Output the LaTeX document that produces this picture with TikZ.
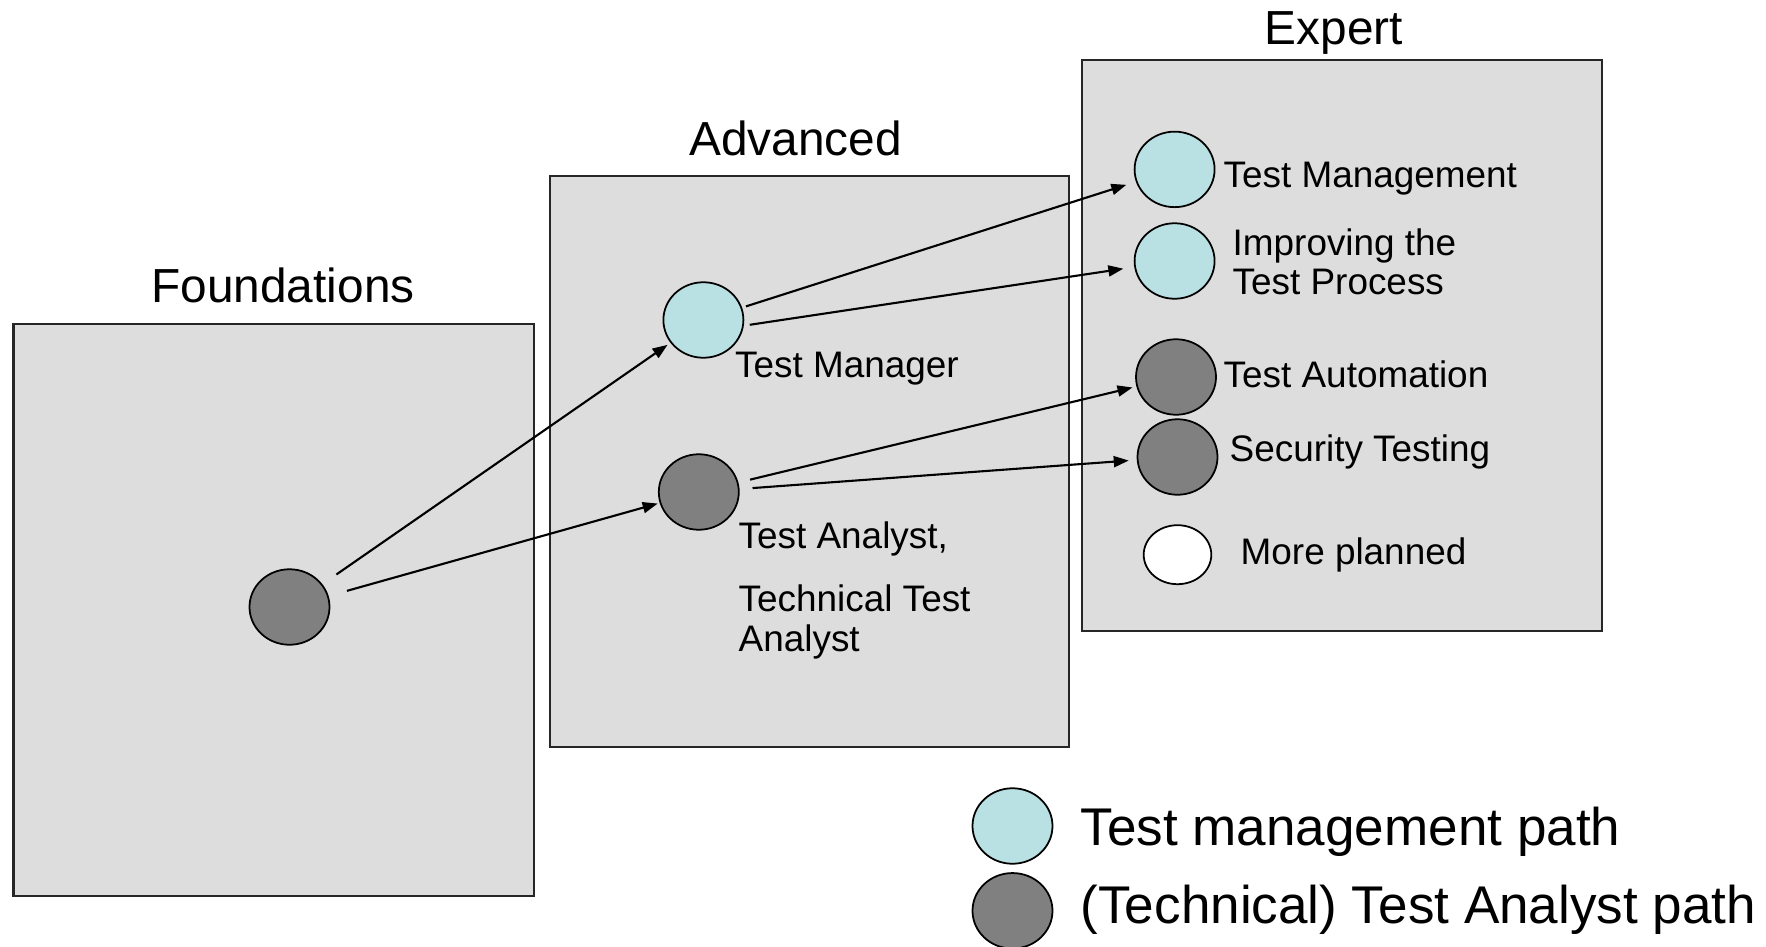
\documentclass[tikz,border=0pt]{standalone}
\usepackage{fontspec}
\setmainfont{Liberation Sans}
\usetikzlibrary{shapes.geometric,arrows.meta}

\definecolor{boxgray}{HTML}{DDDDDD}
\definecolor{mgrblue}{HTML}{B9E0E3}
\definecolor{anagray}{HTML}{808080}

\begin{document}
\begin{tikzpicture}[
  spot/.style={draw,ellipse,inner sep=0pt,minimum width=0.8cm,minimum height=0.755cm,line width=0.5pt},
  mgr/.style={spot,fill=mgrblue},
  ana/.style={spot,fill=anagray},
  lvl/.style={draw=black!85,fill=boxgray,line width=0.6pt},
  title/.style={anchor=base,inner sep=0pt,font=\fontsize{13.6}{16}\selectfont},
  lbl/.style={anchor=base west,inner sep=0pt,align=left,font=\fontsize{10.5}{11.2}\selectfont},
  key/.style={anchor=base west,inner sep=0pt,font=\fontsize{15.1}{18}\selectfont},
  arr/.style={-{Triangle[length=0.15cm,width=0.11cm]},line width=0.6pt,shorten <=0.08cm,shorten >=0.08cm}]
  \useasboundingbox (0,0) rectangle (17.66,-9.47);

  \draw[lvl] (0.135,-3.24) rectangle (5.34,-8.96);
  \draw[lvl] (5.496,-1.757) rectangle (10.689,-7.467);
  \draw[lvl] (10.82,-0.597) rectangle (16.02,-6.31);

  \node[title] (found) at (2.83,-3.03) {Foundations};
  \node[title] (adv) at (7.957,-1.556) {Advanced};
  \node[title] (exp) at (13.34,-0.442) {Expert};

  \node[ana] (0) at (2.895,-6.07) {};

  \node[mgr] (1) at (7.034,-3.20) {};
  \node[ana] (2) at (6.988,-4.92) {};

  \node[mgr] (3) at (11.746,-1.694) {};
  \node[mgr] (4) at (11.746,-2.61) {};
  \node[ana] (5) at (11.76,-3.77) {};
  \node[ana] (6) at (11.775,-4.57) {};
  \node[spot,fill=white,minimum width=0.676cm,minimum height=0.59cm] (7) at (11.775,-5.547) {};

  \node[mgr] (8) at (10.125,-8.26) {};
  \node[ana] (9) at (10.125,-9.108) {};

  \node[lbl] (l1) at (7.345,-3.778) {Test Manager};
  \node[lbl] (l2) at (7.38,-6.51) {Test Analyst,\\[0.24cm]Technical Test\\Analyst};
  \node[lbl] (l3) at (12.23,-1.88) {Test Management};
  \node[lbl] (l4) at (12.32,-2.946) {Improving the\\Test Process};
  \node[lbl] (l5) at (12.23,-3.872) {Test Automation};
  \node[lbl] (l6) at (12.29,-4.62) {Security Testing};
  \node[lbl] (l7) at (12.40,-5.64) {More planned};

  \node[key] (k1) at (10.80,-8.45) {Test management path};
  \node[key] (k2) at (10.80,-9.236) {(Technical) Test Analyst path};

  \draw[arr,shorten <=0.17cm,shorten >=0.035cm] (0)--(1);
  \draw[arr,shorten <=0.19cm,shorten >=0.02cm] (0)--(2);
  \draw[arr,shorten <=0.04cm,shorten >=0.1cm] (1)--(3);
  \draw[arr,shorten <=0.06cm,shorten >=0.11cm] (1.-8)--(4);
  \draw[arr,shorten <=0.12cm,shorten >=0.04cm] (2)--(5);
  \draw[arr,shorten <=0.13cm,shorten >=0.08cm] (2)--(6);
\end{tikzpicture}
\end{document}
